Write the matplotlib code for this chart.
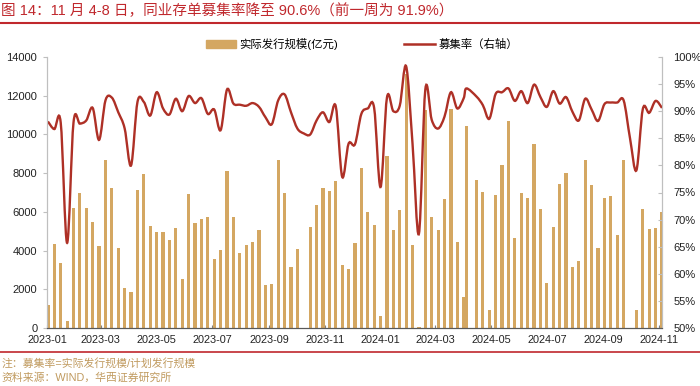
import matplotlib
matplotlib.use('Agg')
import matplotlib.pyplot as plt
import matplotlib.dates as mdates
from matplotlib.path import Path
from matplotlib.patches import PathPatch
from matplotlib.lines import Line2D
from matplotlib.patches import Patch
from matplotlib.ticker import FuncFormatter
import numpy as np
import pandas as pd

plt.rcParams['font.family'] = ['Liberation Sans', 'Noto Sans CJK SC']

# weekly data, week starting Monday (one Qingming-week entry dated 2024-04-04)
dates = list(pd.date_range('2023-01-02', '2024-11-04', freq='W-MON'))
dates = [pd.Timestamp('2024-04-04') if d == pd.Timestamp('2024-04-08') else d for d in dates]

# 实际发行规模 (亿元)
issued = [1180, 4330, 3380, 360, 6210, 6960, 6210, 5470, 4220, 8700,
          7230, 4140, 2060, 1880, 7110, 7960, 5290, 4960, 4970, 4540,
          5150, 2510, 6920, 5440, 5630, 5760, 3580, 4030, 8130, 5750,
          3880, 4270, 4420, 5080, 2200, 2260, 8680, 7000, 3170, 4090,
          0, 5200, 6340, 7250, 7100, 7590, 3250, 3030, 4410, 8250,
          5990, 5320, 600, 8900, 5080, 6110, 13100, 4280, 40, 11250,
          5750, 5040, 6680, 11300, 4440, 1600, 10420, 7650, 7010, 910,
          6850, 8420, 10680, 4670, 6970, 6720, 9520, 6130, 2310, 5220,
          7420, 8030, 3150, 3480, 8700, 7400, 4150, 6700, 6820, 4820,
          8700, 0, 910, 6170, 5130, 5180, 5990]

# 募集率 (%)
rate = [88.1, 86.7, 87.9, 65.7, 87.9, 87.7, 88.3, 90.6, 84.7, 92.0,
        92.5, 89.8, 86.8, 80.0, 91.7, 91.7, 89.2, 93.5, 90.5, 89.4,
        92.3, 90.0, 92.8, 91.5, 92.4, 89.5, 90.3, 86.5, 94.0, 91.4,
        91.2, 91.0, 91.5, 90.8, 88.9, 87.6, 92.0, 93.1, 89.8, 86.8,
        85.9, 85.7, 88.3, 89.8, 88.0, 90.9, 77.9, 84.0, 83.9, 89.5,
        90.5, 90.6, 76.0, 92.5, 90.0, 91.0, 98.3, 84.0, 67.4, 94.0,
        88.4, 86.8, 89.0, 93.5, 90.5, 92.4, 94.2, 92.7, 91.1, 88.6,
        93.2, 93.5, 94.2, 91.9, 93.7, 91.5, 94.9, 92.6, 90.8, 93.7,
        91.4, 92.6, 89.9, 88.3, 92.3, 90.3, 88.2, 91.3, 91.6, 91.6,
        92.0, 85.0, 79.1, 90.4, 89.7, 91.9, 90.6]

title = '图 14：11 月 4-8 日，同业存单募集率降至 90.6%（前一周为 91.9%）'
note = '注：募集率=实际发行规模/计划发行规模'
source = '资料来源：WIND，华西证券研究所'

red = '#C0282D'
bar_color = '#D4A762'
line_color = '#AE3026'
note_color = '#C09A5E'

fig = plt.figure(figsize=(7, 3.86), dpi=100)
ax = fig.add_axes([47 / 700, 1 - 328 / 386, 615 / 700, 271 / 386])
ax2 = ax.twinx()

x = mdates.date2num(dates)
ax.bar(x, issued, width=3.5, color=bar_color, zorder=2)

# smoothed line (bezier through the weekly points, like excel's smooth line)
y = np.array(rate) / 100
pts = np.column_stack([x, y])
verts = [pts[0]]
codes = [Path.MOVETO]
for i in range(len(pts) - 1):
    p0 = pts[max(i - 1, 0)]
    p1 = pts[i]
    p2 = pts[i + 1]
    p3 = pts[min(i + 2, len(pts) - 1)]
    verts += [p1 + (p2 - p0) / 6, p2 - (p3 - p1) / 6, p2]
    codes += [Path.CURVE4] * 3
ax2.add_patch(PathPatch(Path(verts, codes), fill=False, edgecolor=line_color, lw=1.7))

ax.set_xlim(mdates.date2num(pd.Timestamp('2023-01-01')), x[-1])
ax.set_ylim(0, 14000)
ax.set_yticks(range(0, 14001, 2000))
ax2.set_ylim(0.5, 1.0)
ax2.set_yticks(np.arange(0.5, 1.001, 0.05))
ax2.yaxis.set_major_formatter(FuncFormatter(lambda v, p: '%d%%' % round(v * 100)))

ax.xaxis.set_major_locator(mdates.MonthLocator(bymonth=[1, 3, 5, 7, 9, 11]))
ax.xaxis.set_major_formatter(mdates.DateFormatter('%Y-%m'))

for a in (ax, ax2):
    a.spines['top'].set_visible(False)
    a.spines['left'].set_color('#BFBFBF')
    a.spines['right'].set_color('#BFBFBF')
    a.spines['bottom'].set_color('#595959')
ax.tick_params(axis='y', direction='out', length=3, color='#BFBFBF', labelsize=8, labelcolor='#222222', pad=4)
ax2.tick_params(axis='y', direction='in', length=3, color='#BFBFBF', labelsize=8, labelcolor='#222222', pad=8)
ax.tick_params(axis='x', direction='in', length=2, color='#808080', labelsize=7.8, labelcolor='#222222', pad=5)

handles = [Patch(color=bar_color), Line2D([], [], color=line_color, lw=1.8)]
fig.legend(handles, ['实际发行规模(亿元)', '募集率（右轴）'], loc='center',
           bbox_to_anchor=(0.517, 1 - 44 / 386), ncol=2, frameon=False,
           fontsize=8.2, handlelength=2.7, handleheight=0.8, columnspacing=5.8, handletextpad=0.3)

fig.text(0.002, 1 - 11 / 386, title, color=red, fontsize=10.5, va='center', ha='left')
fig.add_artist(Line2D([0, 1], [1 - 23 / 386] * 2, color=red, lw=1.5))
fig.add_artist(Line2D([0, 1], [1 - 352 / 386] * 2, color=red, lw=1.2))
fig.text(0.002, 1 - 363 / 386, note, color=note_color, fontsize=7.8, va='center', ha='left')
fig.text(0.002, 1 - 378 / 386, source, color=note_color, fontsize=7.8, va='center', ha='left')

fig.savefig('out.png', dpi=100)
